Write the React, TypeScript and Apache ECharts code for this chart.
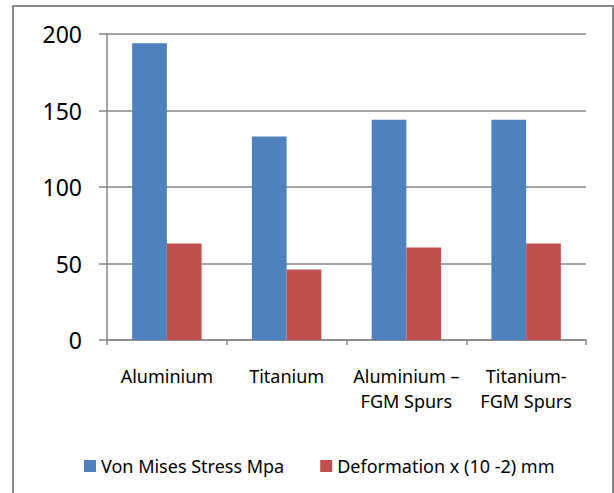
import React, { useEffect, useRef } from "react";
import * as echarts from "echarts";

const categories = ["Aluminium", "Titanium", "Aluminium –\nFGM Spurs", "Titanium-\nFGM Spurs"];
const stressValues = [194, 133, 144, 144];
const deformationValues = [63, 46, 60.5, 63];
const seriesNames = ["Von Mises Stress Mpa", "Deformation x (10 -2) mm"];

const FONT = "Noto Sans";

export default function App() {
  const ref = useRef<HTMLDivElement>(null);
  useEffect(() => {
    if (!ref.current) return;
    const chart = echarts.init(ref.current, undefined, { renderer: "svg" });
    chart.setOption({
      animation: false,
      backgroundColor: "#ffffff",
      textStyle: { fontFamily: FONT },
      graphic: [
        {
          type: "rect",
          shape: { x: 13, y: 6, width: 600, height: 500 },
          style: { fill: "none", stroke: "#898989", lineWidth: 2 },
          silent: true,
        },
      ],
      grid: { left: 107, right: 28, top: 34, bottom: 153, containLabel: false },
      legend: {
        left: 79,
        top: 452,
        itemWidth: 12,
        itemHeight: 12,
        itemGap: 36,
        icon: "rect",
        textStyle: { fontFamily: FONT, fontSize: 18, color: "#000" },
        data: seriesNames,
      },
      xAxis: {
        type: "category",
        data: categories,
        axisLine: { lineStyle: { color: "#868686", width: 1.5 } },
        axisTick: { show: true, length: 5, lineStyle: { color: "#868686", width: 1.5 } },
        axisLabel: {
          fontFamily: FONT,
          fontSize: 18,
          color: "#000",
          lineHeight: 25,
          margin: 23,
          interval: 0,
        },
      },
      yAxis: {
        type: "value",
        min: 0,
        max: 200,
        interval: 50,
        axisLine: { show: true, lineStyle: { color: "#868686", width: 1.5 } },
        axisTick: { show: true, length: 8, lineStyle: { color: "#868686", width: 1.5 } },
        splitLine: { lineStyle: { color: "#868686", width: 1.5 } },
        axisLabel: { fontFamily: FONT, fontSize: 23, color: "#000", margin: 25 },
      },
      series: [
        {
          name: seriesNames[0],
          type: "bar",
          data: stressValues,
          itemStyle: { color: "#4F81BD" },
          barGap: "0%",
          barCategoryGap: "42%",
        },
        {
          name: seriesNames[1],
          type: "bar",
          data: deformationValues,
          itemStyle: { color: "#C0504D" },
          barGap: "0%",
          barCategoryGap: "42%",
        },
      ],
    });
    return () => chart.dispose();
  }, []);
  return (
    <div
      ref={ref}
      style={{ position: "fixed", left: 0, top: 0, width: 614, height: 493, background: "#fff" }}
    />
  );
}
